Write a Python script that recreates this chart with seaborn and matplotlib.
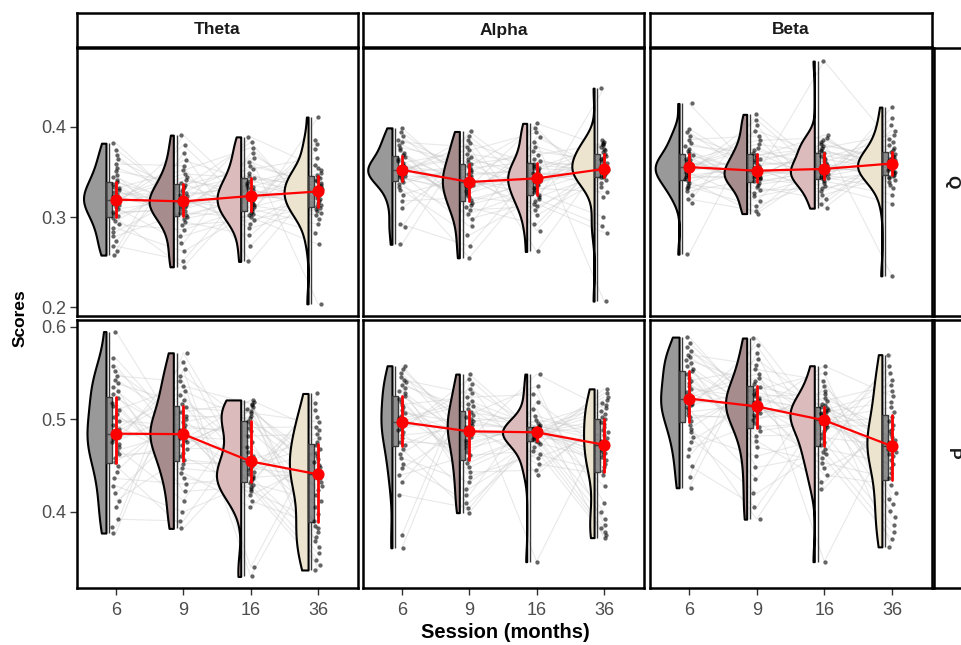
import numpy as np
import pandas as pd
import matplotlib
matplotlib.use("Agg")
import matplotlib.pyplot as plt
import seaborn as sns

sns.set_theme(style="white")
plt.rcParams["font.family"] = ["Liberation Sans", "DejaVu Sans"]

SESSIONS = ["6", "9", "16", "36"]
BANDS = ["Theta", "Alpha", "Beta"]
MEASURES = ["Q", "P"]
FILLS = ["#999999", "#a68c8c", "#dbbbbb", "#ece4cf"]

# ---- scores (in thousandths), one list per measure / band / session ----
Q_THETA_6 = [258, 263, 268, 274, 279, 284, 288, 292, 296, 299, 301, 304, 306, 309, 311, 313, 315, 317, 318, 319,
             320, 322, 324, 326, 328, 330, 332, 334, 337, 339, 341, 344, 347, 351, 355, 359, 364, 369, 375, 382]
Q_THETA_9 = [245, 252, 262, 271, 279, 286, 291, 295, 298, 300, 302, 305, 307, 309, 311, 312, 314, 315, 316, 317,
             318, 319, 321, 323, 325, 327, 329, 331, 333, 336, 338, 341, 344, 348, 352, 357, 363, 371, 380, 391]
Q_THETA_16 = [251, 268, 280, 288, 293, 297, 300, 302, 304, 305, 307, 309, 311, 313, 315, 317, 319, 320, 322, 323,
              324, 326, 328, 330, 332, 334, 336, 338, 340, 343, 346, 349, 353, 357, 361, 366, 371, 377, 383, 389]
Q_THETA_36 = [204, 270, 283, 292, 298, 302, 305, 307, 309, 310, 312, 314, 316, 318, 320, 321, 323, 325, 326, 328,
              329, 331, 333, 335, 336, 338, 340, 341, 343, 345, 347, 349, 352, 355, 358, 366, 376, 381, 385, 411]

Q_ALPHA_6 = [270, 289, 292, 310, 318, 325, 330, 334, 337, 339, 341, 343, 344, 346, 347, 348, 349, 350, 351, 352,
             353, 354, 355, 356, 357, 358, 360, 362, 364, 367, 369, 371, 374, 377, 380, 383, 386, 390, 394, 399]
Q_ALPHA_9 = [255, 268, 280, 290, 298, 304, 308, 311, 314, 316, 319, 322, 325, 327, 329, 331, 333, 335, 336, 338,
             340, 342, 344, 346, 348, 350, 352, 354, 357, 359, 361, 364, 367, 370, 374, 378, 382, 386, 390, 395]
Q_ALPHA_16 = [262, 285, 292, 302, 308, 312, 315, 318, 320, 322, 325, 328, 330, 332, 334, 336, 337, 339, 340, 342,
              344, 345, 347, 349, 350, 352, 354, 355, 357, 359, 362, 365, 369, 373, 378, 383, 389, 394, 399, 404]
Q_ALPHA_36 = [207, 283, 290, 300, 322, 328, 334, 338, 341, 344, 345, 346, 347, 348, 349, 350, 351, 352, 353, 353,
              354, 355, 356, 358, 360, 362, 364, 366, 368, 370, 372, 374, 376, 378, 380, 381, 382, 383, 385, 443]

Q_BETA_6 = [259, 316, 320, 325, 329, 332, 334, 336, 338, 340, 342, 344, 346, 347, 349, 350, 351, 352, 353, 355,
            356, 357, 358, 359, 360, 362, 363, 365, 367, 369, 371, 373, 376, 379, 382, 386, 390, 394, 398, 426]
Q_BETA_9 = [304, 307, 312, 318, 323, 327, 330, 333, 336, 338, 340, 342, 343, 344, 345, 346, 347, 348, 349, 351,
            352, 353, 355, 357, 359, 361, 363, 365, 367, 369, 371, 374, 377, 381, 385, 390, 396, 402, 408, 414]
Q_BETA_16 = [310, 315, 320, 325, 329, 332, 335, 338, 340, 342, 343, 344, 345, 346, 347, 348, 349, 350, 351, 353,
             354, 355, 356, 358, 360, 362, 364, 366, 368, 371, 373, 375, 377, 379, 381, 383, 385, 388, 391, 473]
Q_BETA_36 = [235, 315, 325, 332, 336, 339, 341, 343, 345, 346, 347, 349, 350, 351, 352, 354, 355, 356, 357, 359,
             360, 361, 362, 363, 364, 366, 367, 368, 370, 372, 374, 377, 380, 383, 387, 391, 396, 402, 410, 422]

P_THETA_6 = [377, 384, 392, 405, 412, 420, 428, 436, 443, 450, 454, 458, 462, 466, 470, 473, 476, 479, 481, 483,
             486, 490, 494, 498, 502, 506, 510, 514, 518, 523, 527, 531, 535, 539, 543, 547, 552, 558, 566, 595]
P_THETA_9 = [382, 390, 400, 412, 422, 430, 437, 442, 447, 452, 456, 460, 464, 468, 472, 475, 478, 480, 482, 483,
             485, 487, 489, 491, 494, 497, 500, 504, 508, 513, 517, 521, 526, 531, 536, 541, 547, 554, 562, 572]
P_THETA_16 = [330, 340, 405, 412, 418, 422, 425, 427, 429, 431, 433, 435, 437, 439, 441, 443, 445, 447, 450, 453,
              456, 460, 465, 470, 476, 482, 487, 491, 495, 498, 501, 504, 507, 509, 511, 513, 515, 517, 519, 521]
P_THETA_36 = [337, 342, 348, 355, 362, 368, 373, 378, 382, 385, 390, 398, 405, 412, 418, 424, 428, 432, 436, 439,
              442, 445, 448, 451, 454, 457, 460, 464, 468, 472, 476, 480, 484, 488, 492, 497, 503, 510, 518, 528]

P_ALPHA_6 = [361, 375, 418, 432, 440, 447, 452, 458, 463, 468, 472, 476, 480, 483, 486, 488, 490, 492, 494, 496,
             498, 501, 504, 507, 510, 513, 516, 519, 522, 525, 528, 531, 534, 537, 540, 543, 546, 550, 554, 558]
P_ALPHA_9 = [399, 404, 410, 418, 425, 432, 438, 443, 448, 453, 457, 461, 465, 469, 472, 475, 478, 481, 483, 486,
             488, 490, 492, 494, 496, 498, 500, 502, 505, 508, 511, 514, 517, 520, 524, 528, 533, 538, 544, 549]
P_ALPHA_16 = [346, 440, 445, 452, 458, 462, 466, 470, 473, 475, 477, 479, 480, 481, 482, 483, 484, 485, 485, 486,
              486, 487, 487, 488, 488, 489, 489, 490, 491, 492, 493, 494, 496, 499, 504, 511, 519, 527, 536, 549]
P_ALPHA_36 = [372, 375, 378, 382, 386, 392, 400, 410, 428, 440, 444, 448, 452, 456, 459, 462, 464, 466, 468, 471,
              474, 477, 480, 483, 486, 489, 492, 495, 497, 500, 503, 506, 509, 512, 515, 518, 521, 524, 528, 533]

P_BETA_6 = [426, 438, 450, 460, 468, 475, 481, 486, 490, 494, 498, 502, 505, 508, 511, 513, 515, 517, 519, 521,
            524, 527, 530, 533, 536, 539, 542, 545, 549, 552, 555, 558, 561, 564, 567, 570, 574, 578, 583, 589]
P_BETA_9 = [392, 405, 420, 435, 448, 460, 470, 477, 482, 487, 492, 496, 499, 502, 505, 507, 509, 511, 512, 513,
            515, 517, 519, 521, 523, 525, 527, 529, 532, 535, 538, 541, 545, 549, 554, 559, 565, 572, 580, 588]
P_BETA_16 = [346, 425, 432, 440, 447, 453, 458, 462, 465, 468, 472, 476, 480, 484, 487, 490, 492, 494, 496, 498,
             500, 502, 504, 506, 507, 508, 509, 510, 512, 513, 515, 517, 520, 523, 527, 531, 536, 542, 550, 558]
P_BETA_36 = [362, 370, 378, 386, 394, 401, 408, 414, 420, 429, 436, 442, 447, 452, 456, 460, 463, 465, 468, 470,
             472, 475, 478, 481, 484, 487, 490, 494, 498, 503, 508, 513, 519, 525, 531, 537, 543, 550, 558, 570]

# rank of each subject (0..39) within each session's sorted scores
RANK_6 = [7, 18, 2, 33, 11, 25, 0, 29, 14, 36, 4, 21, 9, 38, 16, 27, 1, 31, 23, 6,
          35, 12, 19, 3, 28, 10, 39, 15, 22, 5, 32, 26, 13, 37, 8, 30, 17, 24, 34, 20]
RANK_9 = [5, 22, 1, 30, 14, 9, 37, 18, 3, 26, 11, 33, 0, 20, 28, 7, 39, 15, 24, 2,
          35, 12, 19, 31, 6, 27, 16, 38, 10, 23, 4, 34, 21, 13, 29, 8, 36, 17, 25, 32]
RANK_16 = [12, 3, 27, 8, 33, 19, 1, 24, 36, 15, 6, 29, 21, 10, 38, 2, 17, 31, 25, 9,
           0, 35, 14, 22, 5, 30, 39, 11, 18, 26, 7, 37, 4, 23, 32, 13, 28, 20, 34, 16]
RANK_36 = [20, 9, 34, 2, 25, 14, 30, 6, 17, 38, 1, 23, 11, 36, 4, 28, 19, 8, 32, 13,
           26, 0, 37, 16, 10, 21, 33, 3, 29, 15, 39, 7, 24, 12, 35, 5, 18, 31, 22, 27]

DATA = {
    ("Q", "Theta"): [Q_THETA_6, Q_THETA_9, Q_THETA_16, Q_THETA_36],
    ("Q", "Alpha"): [Q_ALPHA_6, Q_ALPHA_9, Q_ALPHA_16, Q_ALPHA_36],
    ("Q", "Beta"): [Q_BETA_6, Q_BETA_9, Q_BETA_16, Q_BETA_36],
    ("P", "Theta"): [P_THETA_6, P_THETA_9, P_THETA_16, P_THETA_36],
    ("P", "Alpha"): [P_ALPHA_6, P_ALPHA_9, P_ALPHA_16, P_ALPHA_36],
    ("P", "Beta"): [P_BETA_6, P_BETA_9, P_BETA_16, P_BETA_36],
}
RANKS = [RANK_6, RANK_9, RANK_16, RANK_36]


def frame(measure, band):
    rows = []
    for s, (vals, rank) in enumerate(zip(DATA[(measure, band)], RANKS)):
        v = np.sort(np.asarray(vals, float)) / 1000.0
        r = np.argsort(np.argsort(np.asarray(rank), kind="stable"), kind="stable")
        for subj, k in enumerate(r):
            rows.append({"subject": subj, "pos": s, "bpos": s - 0.10, "value": v[k]})
    return pd.DataFrame(rows)


W, H = 962, 645
fig = plt.figure(figsize=(W / 100, H / 100), dpi=100)


def add_px(x0, y0, x1, y1):
    return fig.add_axes([x0 / W, 1 - y1 / H, (x1 - x0) / W, (y1 - y0) / H])


COLS = [(77, 358), (363, 644), (650, 932)]
ROWS_PX = [(48, 316), (320, 588)]
YLIM = {"Q": (0.1905, 0.4875), "P": (0.3175, 0.6075)}
YTICKS = {"Q": [0.2, 0.3, 0.4], "P": [0.4, 0.5, 0.6]}
VIOLIN_SHIFT = -0.148

for ri, m in enumerate(MEASURES):
    for ci, b in enumerate(BANDS):
        ax = add_px(COLS[ci][0], ROWS_PX[ri][0], COLS[ci][1], ROWS_PX[ri][1])
        d = frame(m, b)

        # subject trajectories
        sns.lineplot(data=d, x="pos", y="value", units="subject", estimator=None,
                     color="#c8c8c8", alpha=0.4, linewidth=0.8, legend=False, ax=ax, zorder=1)

        # half violins
        before = list(ax.collections)
        sns.violinplot(data=d, x="pos", y="value", native_scale=True, inner=None, cut=0,
                       width=0.72, density_norm="area", bw_adjust=0.85, linewidth=1.5,
                       linecolor="black", color="gray", ax=ax)
        for coll in [c for c in ax.collections if c not in before]:
            paths = coll.get_paths()
            if not paths:
                continue
            v = paths[0].vertices.copy()
            cx = (v[:, 0].min() + v[:, 0].max()) / 2
            v[:, 0] = np.minimum(v[:, 0], cx) + VIOLIN_SHIFT
            coll.set_verts([v])
            idx = int(round(cx))
            coll.set_facecolor(FILLS[idx])
            coll.set_edgecolor("black")
            coll.set_linewidth(1.5)
            coll.set_zorder(2)

        # narrow box plots
        bp = list(ax.patches)
        sns.boxplot(data=d, x="bpos", y="value", native_scale=True, width=0.085,
                    whis=(0, 100), showfliers=False, showcaps=False, linewidth=1.0,
                    linecolor="#3a3a3a", color="#555555", ax=ax)
        for p in [p for p in ax.patches if p not in bp]:
            p.set_facecolor((0.33, 0.33, 0.33, 0.65))
            p.set_zorder(3)

        # raw points
        sns.stripplot(data=d, x="pos", y="value", native_scale=True, jitter=0.055, size=3.1,
                      color="black", alpha=0.6, linewidth=0, ax=ax, zorder=4)

        # medians with IQR
        sns.pointplot(data=d, x="pos", y="value", native_scale=True, estimator="median",
                      errorbar=("pi", 50), color="red", markers="o", markersize=7.5,
                      linewidth=1.6, err_kws={"linewidth": 2.0}, ax=ax)
        for ln in ax.lines[-6:]:
            ln.set_zorder(6)

        ax.set_xlim(-0.578, 3.593)
        ax.set_ylim(*YLIM[m])
        ax.set_xticks([0, 1, 2, 3])
        ax.set_xticklabels(SESSIONS)
        ax.set_yticks(YTICKS[m])
        ax.set_yticklabels([f"{t:.1f}" for t in YTICKS[m]])
        ax.set_xlabel("")
        ax.set_ylabel("")
        ax.grid(False)
        for sp in ax.spines.values():
            sp.set_visible(True)
            sp.set_color("black")
            sp.set_linewidth(1.8)
        ax.tick_params(axis="both", which="both", direction="out", length=5, width=1,
                       color="#333333", labelsize=13, labelcolor="#4d4d4d",
                       left=(ci == 0), labelleft=(ci == 0),
                       bottom=(ri == 1), labelbottom=(ri == 1))
        ax.tick_params(axis="x", pad=5)
        ax.tick_params(axis="y", pad=3)

# top strips
for ci, b in enumerate(BANDS):
    sa = add_px(COLS[ci][0], 13, COLS[ci][1], 47)
    sa.set_xticks([]); sa.set_yticks([])
    sa.set_facecolor("white")
    for sp in sa.spines.values():
        sp.set_color("black"); sp.set_linewidth(1.8)
    sa.text(0.5, 0.5, b, ha="center", va="center", fontsize=12.5, fontweight="bold",
            color="#1a1a1a", transform=sa.transAxes)

# right strips (partly outside the canvas)
for ri, m in enumerate(MEASURES):
    sa = add_px(934, ROWS_PX[ri][0], 995, ROWS_PX[ri][1])
    sa.set_xticks([]); sa.set_yticks([])
    sa.set_facecolor("white")
    for sp in sa.spines.values():
        sp.set_color("black"); sp.set_linewidth(1.8)
    sa.text((952 - 934) / (995 - 934), 0.5, m, ha="center", va="center", rotation=-90,
            fontsize=12.5, fontweight="bold", color="#1a1a1a", transform=sa.transAxes)

fig.text(20 / W, 1 - 318 / H, "Scores", rotation=90, ha="center", va="center",
         fontsize=12.5, fontweight="bold", color="black")
fig.text(505 / W, 1 - 633 / H, "Session (months)", ha="center", va="center",
         fontsize=14.5, fontweight="bold", color="black")

fig.savefig("out.png", dpi=100, facecolor="white")
